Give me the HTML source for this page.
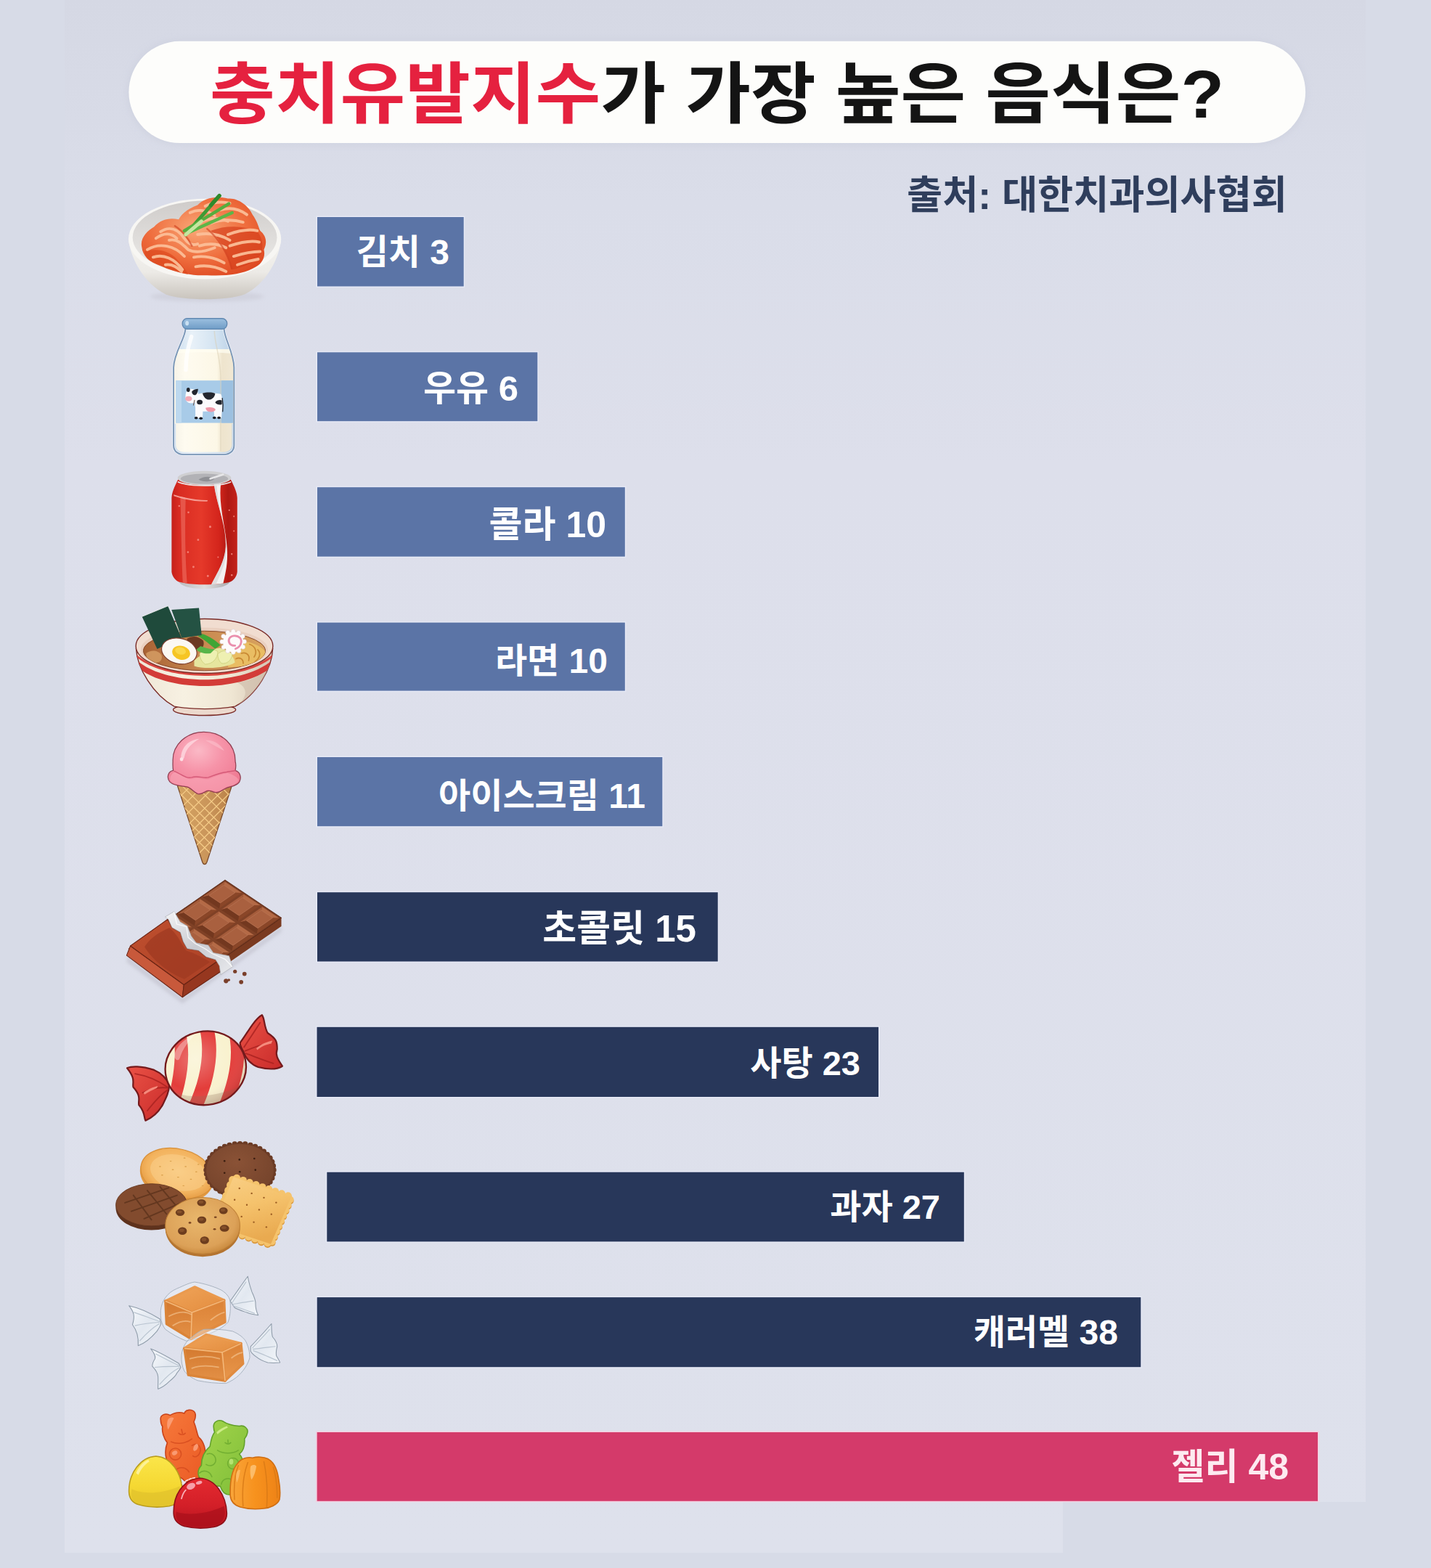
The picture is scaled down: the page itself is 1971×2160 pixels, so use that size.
<!DOCTYPE html>
<html lang="ko"><head><meta charset="utf-8"><title>충치유발지수가 가장 높은 음식은?</title>
<style>
html,body{margin:0;padding:0;background:#d7dbe7;font-family:"Liberation Sans",sans-serif;}
body{width:1971px;height:2160px;overflow:hidden;position:relative;}
svg{position:absolute;left:0;top:0;display:block;}
.t,.t *{margin:0;padding:0;list-style:none;font-weight:bold;font-style:normal;line-height:1.1;white-space:nowrap;color:transparent;}
.t{position:absolute;left:0;top:0;width:1971px;height:2160px;overflow:hidden;}
.t h1,.t p,.t li{position:absolute;}
</style></head><body>
<svg width="1971" height="2160" viewBox="0 0 1971 2160">
<defs>
<linearGradient id="bgg" x1="0" y1="0" x2="0" y2="1"><stop offset="0" stop-color="#d5d8e4"/><stop offset=".13" stop-color="#dadde9"/><stop offset=".3" stop-color="#dddfeb"/><stop offset="1" stop-color="#dee1ec"/></linearGradient>
<filter id="soft" x="-5%" y="-30%" width="110%" height="160%"><feGaussianBlur stdDeviation="5"/></filter>
</defs>
<rect width="1971" height="2160" fill="#d7dbe7"/>
<rect x="89" y="0" width="1792" height="2139" fill="url(#bgg)"/>
<rect x="1464" y="2069" width="420" height="72" fill="#d7dbe7"/>
<!-- title pill -->
<rect x="175" y="55" width="1625" height="145" rx="72" fill="#c9cddb" opacity=".55" filter="url(#soft)"/>
<rect x="177.4" y="56.8" width="1620.7" height="140.2" rx="70.1" fill="#fdfdfb"/>
<g aria-label="충치유발지수가 가장 높은 음식은?">
<text x="289" y="162" font-family="'Liberation Sans','Noto Sans CJK KR',sans-serif" font-size="92" font-weight="bold" fill="#141414" textLength="1397" lengthAdjust="spacingAndGlyphs"><tspan fill="#e5213f">충치유발지수</tspan>가 가장 높은 음식은?</text>
</g>
<g aria-label="출처: 대한치과의사협회"><text x="1249" y="288" font-family="'Liberation Sans','Noto Sans CJK KR',sans-serif" font-size="54" font-weight="bold" fill="#2f3e5c" textLength="524" lengthAdjust="spacingAndGlyphs">출처: 대한치과의사협회</text></g>
<g id="bars"><rect x="435.5" y="297.5" width="204.7" height="98.5" fill="#e6e9f6"/><rect x="437.0" y="299.0" width="201.7" height="95.5" fill="#5b74a6"/><rect x="435.5" y="483.8" width="306.3" height="97.9" fill="#e6e9f6"/><rect x="437.0" y="485.3" width="303.3" height="94.9" fill="#5b74a6"/><rect x="435.5" y="669.7" width="426.8" height="98.5" fill="#e6e9f6"/><rect x="437.0" y="671.2" width="423.8" height="95.5" fill="#5b74a6"/><rect x="435.5" y="856.1" width="426.8" height="97.0" fill="#e6e9f6"/><rect x="437.0" y="857.6" width="423.8" height="94.0" fill="#5b74a6"/><rect x="435.5" y="1041.5" width="478.3" height="98.2" fill="#e6e9f6"/><rect x="437.0" y="1043.0" width="475.3" height="95.2" fill="#5b74a6"/><rect x="435.5" y="1227.7" width="554.7" height="98.3" fill="#e6e9f6"/><rect x="437.0" y="1229.2" width="551.7" height="95.3" fill="#28375a"/><rect x="435.0" y="1413.3" width="776.5" height="99.2" fill="#e6e9f6"/><rect x="436.5" y="1414.8" width="773.5" height="96.2" fill="#28375a"/><rect x="448.8" y="1613.2" width="880.5" height="98.7" fill="#e6e9f6"/><rect x="450.3" y="1614.7" width="877.5" height="95.7" fill="#28375a"/><rect x="435.2" y="1785.6" width="1137.6" height="99.1" fill="#e6e9f6"/><rect x="436.7" y="1787.1" width="1134.6" height="96.1" fill="#28375a"/><rect x="435.2" y="1971.5" width="1381.3" height="97.8" fill="#f3cfe0"/><rect x="436.7" y="1973.0" width="1378.3" height="94.8" fill="#d43a6a"/></g>
<g id="labels" font-family="'Liberation Sans','Noto Sans CJK KR',sans-serif" font-weight="bold" text-anchor="end" fill="#fff">
<text x="619" y="364" font-size="48">김치 3</text>
<text x="714" y="552" font-size="49">우유 6</text>
<text x="835" y="740" font-size="50">콜라 10</text>
<text x="837" y="927" font-size="48">라면 10</text>
<text x="889" y="1113" font-size="48">아이스크림 11</text>
<text x="959" y="1297" font-size="51">초콜릿 15</text>
<text x="1185" y="1481" font-size="47">사탕 23</text>
<text x="1295" y="1679" font-size="47">과자 27</text>
<text x="1540" y="1852" font-size="48">캐러멜 38</text>
<text x="1775" y="2038" font-size="50" fill="#fdeaf0">젤리 48</text>
</g>
<g id="icons">
<g id="kimchi" transform="translate(160,250) scale(0.130435)">
<defs>
<linearGradient id="k_body" x1="0" y1="0" x2="0" y2="1"><stop offset="0" stop-color="#f6f5f2"/><stop offset=".55" stop-color="#eceae6"/><stop offset="1" stop-color="#c9c4bd"/></linearGradient>
<linearGradient id="k_in" x1="0" y1="0" x2="0" y2="1"><stop offset="0" stop-color="#cfccca"/><stop offset="1" stop-color="#eeedeb"/></linearGradient>
<radialGradient id="k_kim" cx=".45" cy=".4" r=".7"><stop offset="0" stop-color="#f9a878"/><stop offset=".55" stop-color="#ef6e3e"/><stop offset="1" stop-color="#dc451f"/></radialGradient>
<filter id="k_bl" x="-20%" y="-50%" width="140%" height="200%"><feGaussianBlur stdDeviation="22"/></filter>
</defs>
<ellipse cx="960" cy="1215" rx="600" ry="55" fill="#b9b8c2" opacity=".3" filter="url(#k_bl)"/>
<path d="M132 610C150 820 300 1080 520 1190C700 1262 1180 1262 1360 1190C1580 1080 1725 820 1740 610Z" fill="url(#k_body)"/>
<ellipse cx="936" cy="607" rx="806" ry="424" fill="#f7f6f3"/>
<ellipse cx="936" cy="592" rx="762" ry="388" fill="url(#k_in)"/>
<path d="M270 690C250 600 330 520 400 480C470 400 560 380 660 400C700 330 760 290 860 250C930 170 1060 150 1180 180C1290 170 1400 260 1440 350C1490 420 1500 470 1520 520C1580 570 1600 640 1560 720C1580 800 1540 880 1440 920C1330 980 1150 1000 960 990C800 1000 620 960 470 890C350 850 280 790 270 690Z" fill="url(#k_kim)"/>
<path d="M1000 520C1120 640 1200 800 1230 930C1340 900 1480 860 1530 760C1560 680 1540 600 1500 540C1380 470 1180 450 1000 520Z" fill="#d6401c" opacity=".7"/>
<path d="M300 740C420 700 560 730 640 820C700 890 740 940 760 980C620 960 470 900 380 850C320 820 300 780 300 740Z" fill="#dd4a20" opacity=".7"/>
<g fill="none" stroke="#fcc09a" stroke-width="30" stroke-linecap="round" opacity=".92">
<path d="M420 600C500 540 580 540 640 600"/><path d="M900 420C1000 380 1100 380 1180 420"/><path d="M1100 300C1200 270 1300 290 1380 350"/><path d="M880 680C980 650 1080 660 1160 700"/><path d="M520 880C580 870 640 900 690 950"/><path d="M1280 880C1360 850 1440 830 1500 820"/><path d="M940 260C1020 220 1120 210 1200 230"/>
<path d="M330 720C460 640 620 680 720 790"/><path d="M390 800C500 760 620 820 700 930"/>
<path d="M470 530C560 470 650 500 720 600C760 660 800 680 860 660"/>
<path d="M560 620C640 600 700 660 760 720C840 760 940 740 1040 700"/>
<path d="M780 330C860 290 960 300 1040 360"/>
<path d="M860 560C980 540 1100 560 1200 620"/>
<path d="M1180 560C1290 520 1400 500 1490 520"/>
<path d="M1200 680C1320 640 1420 620 1510 640"/>
<path d="M1240 790C1340 760 1440 740 1520 740"/>
<path d="M820 800C920 780 1040 800 1140 860"/>
<path d="M840 900C940 880 1060 900 1160 950"/>
<path d="M1000 440C1100 400 1240 400 1340 430"/>
</g>
<g fill="none" stroke="#c93215" stroke-width="18" stroke-linecap="round" opacity=".55">
<path d="M620 470C700 520 760 600 800 680"/><path d="M960 500C1080 600 1180 760 1220 920"/>
</g>
<g fill="none" stroke-linecap="round">
<path d="M735 560L1090 150" stroke="#3f9a35" stroke-width="38"/>
<path d="M720 520L1190 235" stroke="#55ad3e" stroke-width="34"/>
<path d="M760 540L1225 330" stroke="#5cb648" stroke-width="34"/>
<path d="M735 560L900 420" stroke="#c5e6a0" stroke-width="38"/>
<path d="M1090 150L1000 250" stroke="#2f8a2c" stroke-width="40"/>
</g>
</g>
<g id="milk" transform="translate(220,420) scale(0.109091)">
<defs>
<linearGradient id="m_milk" x1="0" y1="0" x2="1" y2="0"><stop offset="0" stop-color="#f4f1e6"/><stop offset=".2" stop-color="#fefbf0"/><stop offset=".7" stop-color="#fcf7e6"/><stop offset=".78" stop-color="#eee4cd"/><stop offset="1" stop-color="#f1e9d6"/></linearGradient>
<linearGradient id="m_cap" x1="0" y1="0" x2="0" y2="1"><stop offset="0" stop-color="#9cc0e0"/><stop offset="1" stop-color="#6f9cc6"/></linearGradient>
<linearGradient id="m_gl" x1="0" y1="0" x2="1" y2="0"><stop offset="0" stop-color="#c9dcee"/><stop offset=".3" stop-color="#e8f1f8"/><stop offset=".7" stop-color="#d3e3f1"/><stop offset="1" stop-color="#b9d0e6"/></linearGradient>
<clipPath id="m_clip"><path d="M325 300C325 420 180 600 175 790V1775C175 1845 230 1889 300 1889H810C880 1889 938 1845 938 1775V790C935 600 812 420 812 300Z"/></clipPath>
</defs>
<path d="M325 300C325 420 180 600 175 790V1775C175 1845 230 1889 300 1889H810C880 1889 938 1845 938 1775V790C935 600 812 420 812 300Z" fill="url(#m_gl)" stroke="#e9eef6" stroke-width="34"/>
<g clip-path="url(#m_clip)">
<path d="M150 560H970V1500H912V1770C912 1822 868 1858 812 1858H300C245 1858 203 1822 203 1770V1500H150Z" fill="url(#m_milk)"/>
<path d="M150 560H970V620C700 590 400 590 150 620Z" fill="#fffdf2" opacity=".7"/>
<rect x="205" y="955" width="720" height="535" fill="#a8cbe8"/>
<rect x="205" y="955" width="70" height="535" fill="#bcd8ee"/>
<rect x="780" y="955" width="145" height="535" fill="#9cc0e0"/>
<path d="M400 400C360 520 330 640 330 820" stroke="#ffffff" stroke-width="50" stroke-linecap="round" fill="none" opacity=".75"/>
<path d="M690 330C700 520 760 640 770 900V1850" stroke="#d9cdb2" stroke-width="14" fill="none" opacity=".5"/>
</g>
<path d="M325 300C325 420 180 600 175 790V1775C175 1845 230 1889 300 1889H810C880 1889 938 1845 938 1775V790C935 600 812 420 812 300" fill="none" stroke="#7895b6" stroke-width="17"/>
<rect x="286" y="172" width="564" height="134" rx="62" fill="url(#m_cap)" stroke="#5f87b0" stroke-width="12"/>
<ellipse cx="345" cy="232" rx="22" ry="30" fill="#c9e0f2"/>
<!-- cow -->
<g>
<path d="M470 1130C520 1105 700 1105 770 1125C795 1150 795 1300 785 1340L780 1425H690L685 1345H545L540 1430H450L450 1300C440 1250 445 1170 470 1130Z" fill="#fbfbfd"/>
<path d="M345 1075C380 1050 450 1060 480 1100C500 1150 480 1210 440 1235C400 1250 345 1240 330 1200C320 1160 325 1110 345 1075Z" fill="#fbfbfd"/>
<path d="M540 1115C590 1100 680 1100 700 1120C690 1180 640 1205 600 1195C570 1180 550 1150 540 1115Z" fill="#23262e"/>
<path d="M405 1095C420 1070 455 1060 485 1060C480 1100 470 1135 440 1140C415 1135 405 1115 405 1095Z" fill="#23262e"/>
<ellipse cx="360" cy="1072" rx="22" ry="28" fill="#23262e"/>
<ellipse cx="505" cy="1228" rx="36" ry="30" fill="#23262e"/>
<path d="M700 1230C720 1200 760 1195 785 1205V1255C760 1265 715 1260 700 1230Z" fill="#23262e"/>
<ellipse cx="365" cy="1185" rx="42" ry="32" fill="#f2a9b6"/>
<path d="M580 1300C620 1285 690 1290 705 1320C700 1350 650 1360 610 1345C590 1335 580 1320 580 1300Z" fill="#ee98a8"/>
<path d="M790 1180C800 1240 800 1300 795 1345" stroke="#23262e" stroke-width="12" fill="none" stroke-linecap="round"/>
<g fill="#191b22"><ellipse cx="460" cy="1428" rx="22" ry="16"/><ellipse cx="520" cy="1432" rx="22" ry="16"/><ellipse cx="690" cy="1426" rx="22" ry="16"/><ellipse cx="748" cy="1426" rx="22" ry="16"/></g>
<path d="M440 1200L425 1270" stroke="#5a3a2a" stroke-width="8" fill="none"/>
</g>
</g>
<g id="cola" transform="translate(220,628.74) scale(0.099237,0.105886)">
<defs>
<linearGradient id="c_red" x1="0" y1="0" x2="1" y2="0"><stop offset="0" stop-color="#c5201a"/><stop offset=".12" stop-color="#d92c22"/><stop offset=".45" stop-color="#e5392a"/><stop offset=".72" stop-color="#d4251c"/><stop offset=".86" stop-color="#b01913"/><stop offset="1" stop-color="#c3221a"/></linearGradient>
<linearGradient id="c_sil" x1="0" y1="0" x2="1" y2="0"><stop offset="0" stop-color="#b9b9bc"/><stop offset=".5" stop-color="#dededf"/><stop offset="1" stop-color="#a9a9ad"/></linearGradient>
<clipPath id="c_clip"><path d="M255 330C200 400 168 470 165 540V1500C170 1560 215 1610 262 1632C450 1680 800 1680 980 1632C1030 1610 1072 1560 1076 1500V540C1072 470 1040 400 985 330Z"/></clipPath>
</defs>
<path d="M255 1590C255 1690 420 1722 620 1722C820 1722 985 1690 985 1590Z" fill="url(#c_sil)"/>
<path d="M255 300C200 400 168 470 165 540V1500C170 1560 215 1610 262 1632C450 1680 800 1680 980 1632C1030 1610 1072 1560 1076 1500V540C1072 470 1040 400 985 300Z" fill="url(#c_red)"/>
<g clip-path="url(#c_clip)">
<path d="M285 520C300 900 300 1300 320 1640L380 1650C350 1300 350 900 360 540Z" fill="#f0766a" opacity=".55"/>
<path d="M195 495C340 540 520 570 665 568L660 585C500 590 330 560 195 515Z" fill="#f7a79e" opacity=".9"/>
<path d="M750 340C790 640 930 900 915 1180C900 1400 760 1560 690 1720L870 1700C900 1560 950 1420 935 1200C915 900 810 640 850 340Z" fill="#f3f1f1"/>
<path d="M750 340C790 640 930 900 915 1180C900 1400 760 1560 690 1720L760 1715C820 1560 935 1400 925 1180C915 900 800 640 790 340Z" fill="#cfcdd0" opacity=".55"/>
<g fill="#f58a80" opacity=".9"><circle cx="270" cy="645" r="12"/><circle cx="398" cy="728" r="13"/><circle cx="700" cy="915" r="15"/><circle cx="533" cy="1085" r="14"/><circle cx="392" cy="1245" r="13"/><circle cx="468" cy="1437" r="14"/><circle cx="668" cy="1555" r="14"/><circle cx="965" cy="700" r="11"/><circle cx="1030" cy="780" r="10"/><circle cx="1030" cy="970" r="10"/><circle cx="1000" cy="1270" r="11"/><circle cx="1000" cy="1545" r="12"/><circle cx="810" cy="1310" r="10"/></g>
</g>
<ellipse cx="620" cy="282" rx="372" ry="92" fill="#cfcfd1"/>
<ellipse cx="620" cy="290" rx="330" ry="66" fill="#b2b2b6"/>
<path d="M540 300C600 260 700 250 760 290C720 330 600 340 540 300Z" fill="#8f9095"/>
<path d="M700 290L880 235" stroke="#e6e6e8" stroke-width="26" stroke-linecap="round"/>
<path d="M250 330C400 395 840 395 990 330" stroke="#e9e9ea" stroke-width="16" fill="none"/>
</g>
<g id="ramen" transform="translate(170,820) scale(0.125)">
<defs>
<linearGradient id="r_body" x1="0" y1="0" x2="1" y2="0"><stop offset="0" stop-color="#efe6d6"/><stop offset=".35" stop-color="#f7f1e2"/><stop offset=".7" stop-color="#efe6d3"/><stop offset="1" stop-color="#d3c3b1"/></linearGradient>
<linearGradient id="r_soup" x1="0" y1="0" x2="1" y2="0"><stop offset="0" stop-color="#a86234"/><stop offset=".5" stop-color="#c98a52"/><stop offset="1" stop-color="#d8a35e"/></linearGradient>
<clipPath id="r_clip"><path d="M140 590C150 800 330 1100 560 1225H1230C1470 1100 1640 800 1645 590Z"/></clipPath>
<clipPath id="r_soupclip"><ellipse cx="892" cy="612" rx="672" ry="218"/></clipPath>
</defs>
<ellipse cx="893" cy="1262" rx="345" ry="62" fill="#ecd9cd" stroke="#7a2a26" stroke-width="11"/>
<path d="M140 590C150 800 330 1100 560 1225C760 1262 1030 1262 1230 1225C1470 1100 1640 800 1645 590Z" fill="url(#r_body)" stroke="#7a2a26" stroke-width="11"/>
<g clip-path="url(#r_clip)">
<path d="M1250 960C1350 1000 1400 1100 1240 1230L1500 1230L1700 700L1560 800C1500 900 1380 950 1250 960Z" fill="#cdbba8" opacity=".6"/>
<path d="M120 700C300 880 650 930 893 930C1140 930 1480 880 1670 700V730C1480 905 1140 958 893 958C650 958 300 905 120 730Z" fill="#d9453f" transform="translate(0,-70)"/>
<path d="M120 720C300 905 650 960 893 960C1140 960 1480 905 1670 720V790C1480 975 1140 1030 893 1030C650 1030 300 975 120 790Z" fill="#d33c38" transform="translate(0,-30)"/>
</g>
<ellipse cx="892" cy="560" rx="755" ry="300" fill="#f1ddd0" stroke="#7a2a26" stroke-width="11"/>
<ellipse cx="892" cy="596" rx="700" ry="240" fill="#ead0c0"/>
<ellipse cx="892" cy="612" rx="672" ry="218" fill="url(#r_soup)" stroke="#8a4a2a" stroke-width="8"/>
<g clip-path="url(#r_soupclip)">
<path d="M1180 520C1300 480 1500 520 1580 640C1500 760 1300 800 1150 790C1180 700 1200 600 1180 520Z" fill="#e9bd63"/>
<g fill="none" stroke="#c98a34" stroke-width="14" stroke-linecap="round"><path d="M1390 540C1450 560 1480 620 1440 680"/><path d="M1300 640C1350 620 1400 660 1380 720"/><path d="M1480 600C1520 640 1500 700 1450 730"/><path d="M1240 700C1280 680 1320 700 1320 750"/></g>
<path d="M250 640C300 600 380 600 420 660C440 720 380 760 320 740C280 720 250 690 250 640Z" fill="#d7a066" opacity=".8"/>
<path d="M780 720C850 650 950 600 1060 580C1150 600 1210 660 1230 740C1150 800 900 820 780 780Z" fill="#e6e69e"/>
<path d="M840 640C900 590 990 580 1040 620C1040 700 980 760 900 760C860 730 840 690 840 640Z" fill="#eef0b2" stroke="#c9cc7a" stroke-width="6"/>
<path d="M1040 650C1080 600 1150 600 1200 650C1190 720 1140 760 1080 750C1050 720 1040 690 1040 650Z" fill="#eef0b2" stroke="#c9cc7a" stroke-width="6"/>
</g>
<path d="M700 480C760 440 830 450 880 500C900 560 860 610 800 600C740 580 700 540 700 480Z" fill="#6b3a22"/>
<path d="M820 450L870 425C950 450 1020 500 1070 550L1010 590C950 540 880 480 820 450Z" fill="#3fa535"/>
<path d="M800 600L850 560C900 580 960 600 1010 590L960 640C900 650 840 630 800 600Z" fill="#58b548"/>
<path d="M205 235L490 118L640 470L372 592Z" fill="#1f4a3b"/>
<path d="M530 160L832 140L862 440L642 470Z" fill="#245243"/>
<path d="M205 235L490 118L530 160" fill="none" stroke="#f3f3f0" stroke-width="8" opacity=".8"/>
<g transform="rotate(14 615 615)"><ellipse cx="615" cy="615" rx="197" ry="140" fill="#fbf8f2" stroke="#7a3a2a" stroke-width="9"/><ellipse cx="640" cy="628" rx="100" ry="76" fill="#f6c524"/><ellipse cx="628" cy="610" rx="60" ry="40" fill="#fad74a"/></g>
<g fill="#fdfbfb" stroke="#d9c7cf" stroke-width="4"><circle cx="1210" cy="515" r="112"/><g><circle cx="1210" cy="398" r="24"/><circle cx="1268" cy="412" r="24"/><circle cx="1314" cy="452" r="24"/><circle cx="1332" cy="510" r="24"/><circle cx="1318" cy="570" r="24"/><circle cx="1272" cy="612" r="24"/><circle cx="1210" cy="628" r="24"/><circle cx="1150" cy="614" r="24"/><circle cx="1104" cy="572" r="24"/><circle cx="1086" cy="512" r="24"/><circle cx="1102" cy="452" r="24"/><circle cx="1150" cy="410" r="24"/></g></g>
<circle cx="1210" cy="515" r="112" fill="#fdfbfb"/>
<path d="M1230 555C1180 560 1150 520 1165 480C1185 440 1250 435 1285 470C1315 510 1290 570 1235 590" fill="none" stroke="#ea8fae" stroke-width="22" stroke-linecap="round"/>
</g>
<g id="icecream" transform="translate(210,1000) scale(0.1041667)">
<defs>
<radialGradient id="i_sc" cx=".42" cy=".3" r=".75"><stop offset="0" stop-color="#fbb9c6"/><stop offset=".45" stop-color="#f693a8"/><stop offset="1" stop-color="#ee7790"/></radialGradient>
<linearGradient id="i_cone" x1="0" y1="0" x2="1" y2="0"><stop offset="0" stop-color="#d5a462"/><stop offset=".6" stop-color="#c9945a"/><stop offset="1" stop-color="#b98046"/></linearGradient>
<clipPath id="i_clip"><path d="M330 790L1050 790L720 1800C705 1840 675 1840 660 1800Z"/></clipPath>
</defs>
<path d="M330 790L1050 790L720 1800C705 1840 675 1840 660 1800Z" fill="url(#i_cone)" stroke="#7a4a2a" stroke-width="12" stroke-linejoin="round"/>
<g clip-path="url(#i_clip)" stroke="#f3c986" stroke-width="13" fill="none">
<path d="M380 780L1000 1400M250 780L900 1430M560 780L1100 1320M720 780L1150 1210M880 780L1200 1100M300 960L860 1520M360 1150L800 1590M480 1400L760 1680"/>
<path d="M1000 780L380 1400M1130 780L480 1430M840 780L300 1320M680 780L250 1210M520 780L200 1100M1060 960L520 1500M980 1180L560 1600M900 1400L620 1680"/>
</g>
<path d="M270 470C260 250 450 80 680 80C920 80 1100 250 1095 470C1110 520 1100 560 1095 590C1160 610 1180 680 1150 740C1110 800 1020 800 960 830C920 850 880 890 830 880C790 870 760 850 720 860C680 880 650 910 600 900C550 880 520 830 470 810C400 790 290 800 230 740C180 680 210 600 275 590C268 550 268 510 270 470Z" fill="url(#i_sc)" stroke="#8f3f52" stroke-width="12" stroke-linejoin="round"/>
<path d="M290 600C380 640 450 700 520 680C600 650 680 700 740 680C820 650 900 620 980 610C1020 600 1060 600 1095 590" fill="none" stroke="#d55a78" stroke-width="14" stroke-linecap="round"/>
<path d="M300 610C400 660 460 720 530 700C610 670 690 720 750 700C830 670 900 640 990 625C1060 640 1130 680 1140 720C1100 790 1020 790 960 815C920 840 880 875 830 866C790 856 760 838 720 848C680 866 650 896 600 886C550 868 520 818 470 798C400 778 300 790 240 730C220 680 250 630 300 610Z" fill="#f9a9ba" opacity=".55"/>
<path d="M380 380C400 260 500 180 620 170C520 230 440 300 420 420C400 460 370 440 380 380Z" fill="#fdd3db" opacity=".9"/>
<ellipse cx="385" cy="440" rx="22" ry="26" fill="#fde0e6"/>
<path d="M700 190C800 180 900 240 950 330C880 290 790 250 700 190Z" fill="#fbc0cc" opacity=".6"/>
</g>
<g id="choc" transform="translate(160,1200) scale(0.130435)">
<defs><linearGradient id="ch_w" x1="0" y1="0" x2="1" y2="1"><stop offset="0" stop-color="#c0502f"/><stop offset="1" stop-color="#a93f25"/></linearGradient>
<linearGradient id="ch_f" x1="0" y1="0" x2="1" y2="1"><stop offset="0" stop-color="#f4f4f6"/><stop offset=".5" stop-color="#c9cbd0"/><stop offset="1" stop-color="#e9eaee"/></linearGradient>
<filter id="ch_bl" x="-20%" y="-20%" width="140%" height="140%"><feGaussianBlur stdDeviation="18"/></filter></defs>
<path d="M120 900L700 1340L1745 585L1745 640L700 1400L110 960Z" fill="#b9b8c4" opacity=".5" filter="url(#ch_bl)"/>
<path d="M1744 494L1744 582L906 1164L906 1076Z" fill="#7a3a20"/>
<path d="M1150 95L1744 494L906 1076L312 677Z" fill="#7f4126" stroke="#5a2612" stroke-width="8" stroke-linejoin="round"/>
<path d="M1147 111L1325 230L1256 228L1137 148Z" fill="#b46a46"/>
<path d="M1147 111L1137 148L980 257L911 275Z" fill="#a55c3b"/>
<path d="M1325 230L1089 394L1099 337L1256 228Z" fill="#8a4628"/>
<path d="M911 275L980 257L1099 337L1089 394Z" fill="#73381f"/>
<path d="M1137 148L1256 228L1099 337L980 257Z" fill="#a9603f" stroke="#c98462" stroke-width="4" stroke-linejoin="round"/>
<path d="M1345 244L1523 363L1454 361L1335 281Z" fill="#b46a46"/>
<path d="M1345 244L1335 281L1178 390L1109 408Z" fill="#a55c3b"/>
<path d="M1523 363L1287 527L1297 470L1454 361Z" fill="#8a4628"/>
<path d="M1109 408L1178 390L1297 470L1287 527Z" fill="#73381f"/>
<path d="M1335 281L1454 361L1297 470L1178 390Z" fill="#a9603f" stroke="#c98462" stroke-width="4" stroke-linejoin="round"/>
<path d="M1543 377L1721 496L1652 494L1533 414Z" fill="#b46a46"/>
<path d="M1543 377L1533 414L1376 523L1307 541Z" fill="#a55c3b"/>
<path d="M1721 496L1485 660L1495 603L1652 494Z" fill="#8a4628"/>
<path d="M1307 541L1376 523L1495 603L1485 660Z" fill="#73381f"/>
<path d="M1533 414L1652 494L1495 603L1376 523Z" fill="#a9603f" stroke="#c98462" stroke-width="4" stroke-linejoin="round"/>
<path d="M885 293L1063 412L994 410L875 330Z" fill="#b46a46"/>
<path d="M885 293L875 330L718 439L649 457Z" fill="#a55c3b"/>
<path d="M1063 412L827 576L837 519L994 410Z" fill="#8a4628"/>
<path d="M649 457L718 439L837 519L827 576Z" fill="#73381f"/>
<path d="M875 330L994 410L837 519L718 439Z" fill="#a9603f" stroke="#c98462" stroke-width="4" stroke-linejoin="round"/>
<path d="M1083 426L1261 545L1192 543L1073 463Z" fill="#b46a46"/>
<path d="M1083 426L1073 463L916 572L847 590Z" fill="#a55c3b"/>
<path d="M1261 545L1025 709L1035 652L1192 543Z" fill="#8a4628"/>
<path d="M847 590L916 572L1035 652L1025 709Z" fill="#73381f"/>
<path d="M1073 463L1192 543L1035 652L916 572Z" fill="#a9603f" stroke="#c98462" stroke-width="4" stroke-linejoin="round"/>
<path d="M1281 559L1459 678L1390 676L1271 596Z" fill="#b46a46"/>
<path d="M1281 559L1271 596L1114 705L1045 723Z" fill="#a55c3b"/>
<path d="M1459 678L1223 842L1233 785L1390 676Z" fill="#8a4628"/>
<path d="M1045 723L1114 705L1233 785L1223 842Z" fill="#73381f"/>
<path d="M1271 596L1390 676L1233 785L1114 705Z" fill="#a9603f" stroke="#c98462" stroke-width="4" stroke-linejoin="round"/>
<path d="M623 475L801 594L732 592L613 512Z" fill="#b46a46"/>
<path d="M623 475L613 512L456 621L387 639Z" fill="#a55c3b"/>
<path d="M801 594L565 758L575 701L732 592Z" fill="#8a4628"/>
<path d="M387 639L456 621L575 701L565 758Z" fill="#73381f"/>
<path d="M613 512L732 592L575 701L456 621Z" fill="#a9603f" stroke="#c98462" stroke-width="4" stroke-linejoin="round"/>
<path d="M821 608L999 727L930 725L811 645Z" fill="#b46a46"/>
<path d="M821 608L811 645L654 754L585 772Z" fill="#a55c3b"/>
<path d="M999 727L763 891L773 834L930 725Z" fill="#8a4628"/>
<path d="M585 772L654 754L773 834L763 891Z" fill="#73381f"/>
<path d="M811 645L930 725L773 834L654 754Z" fill="#a9603f" stroke="#c98462" stroke-width="4" stroke-linejoin="round"/>
<path d="M1019 741L1197 860L1128 858L1009 778Z" fill="#b46a46"/>
<path d="M1019 741L1009 778L852 887L783 905Z" fill="#a55c3b"/>
<path d="M1197 860L961 1024L971 967L1128 858Z" fill="#8a4628"/>
<path d="M783 905L852 887L971 967L961 1024Z" fill="#73381f"/>
<path d="M1009 778L1128 858L971 967L852 887Z" fill="#a9603f" stroke="#c98462" stroke-width="4" stroke-linejoin="round"/>
<path d="M361 657L539 776L470 774L351 694Z" fill="#b46a46"/>
<path d="M361 657L351 694L194 803L125 821Z" fill="#a55c3b"/>
<path d="M539 776L303 940L313 883L470 774Z" fill="#8a4628"/>
<path d="M125 821L194 803L313 883L303 940Z" fill="#73381f"/>
<path d="M351 694L470 774L313 883L194 803Z" fill="#a9603f" stroke="#c98462" stroke-width="4" stroke-linejoin="round"/>
<path d="M559 790L737 909L668 907L549 827Z" fill="#b46a46"/>
<path d="M559 790L549 827L392 936L323 954Z" fill="#a55c3b"/>
<path d="M737 909L501 1073L511 1016L668 907Z" fill="#8a4628"/>
<path d="M323 954L392 936L511 1016L501 1073Z" fill="#73381f"/>
<path d="M549 827L668 907L511 1016L392 936Z" fill="#a9603f" stroke="#c98462" stroke-width="4" stroke-linejoin="round"/>
<path d="M757 923L935 1042L866 1040L747 960Z" fill="#b46a46"/>
<path d="M757 923L747 960L590 1069L521 1087Z" fill="#a55c3b"/>
<path d="M935 1042L699 1206L709 1149L866 1040Z" fill="#8a4628"/>
<path d="M521 1087L590 1069L709 1149L699 1206Z" fill="#73381f"/>
<path d="M747 960L866 1040L709 1149L590 1069Z" fill="#a9603f" stroke="#c98462" stroke-width="4" stroke-linejoin="round"/>
<path d="M110 890L150 790L715 1200L700 1332Z" fill="#c8593b" stroke="#6a2414" stroke-width="8" stroke-linejoin="round"/>
<path d="M715 1200L1092 935L1102 1062L700 1332Z" fill="#96371f" stroke="#6a2414" stroke-width="8" stroke-linejoin="round"/>
<path d="M150 790L545 508L590 596L678 646L708 744L750 818L870 838L950 905L1050 935L1092 935L715 1200Z" fill="url(#ch_w)" stroke="#6a2414" stroke-width="8" stroke-linejoin="round"/>
<path d="M300 800C360 700 470 640 560 600C640 650 680 760 740 840C840 870 940 930 990 960L720 1140C560 1080 380 940 300 800Z" fill="#9f3a22" opacity=".75"/>
<path d="M612 426L676 536L752 580L792 684L846 758L972 782L1026 862L1192 896L1230 1010L1104 1094L1090 1000L1050 935L950 905L870 838L750 818L708 744L678 646L590 596L552 510L516 484Z" fill="url(#ch_f)" stroke="#a9abb2" stroke-width="5" stroke-linejoin="round"/>
<path d="M610 428L640 560L742 586L760 700L836 766L940 820L1012 870L1150 930L1226 1010" fill="none" stroke="#ffffff" stroke-width="10" opacity=".8"/>
<circle cx="1255" cy="1060" r="20" fill="#7a3f2a"/>
<circle cx="1355" cy="1085" r="22" fill="#7a3f2a"/>
<circle cx="1160" cy="1160" r="24" fill="#7a3f2a"/>
<circle cx="1320" cy="1172" r="22" fill="#7a3f2a"/>
<circle cx="1190" cy="1150" r="14" fill="#7a3f2a"/>
</g>
<g id="candy" transform="translate(160,1380) scale(0.130435)">
<defs>
<clipPath id="cd_clip"><ellipse cx="945" cy="700" rx="428" ry="388" transform="rotate(-12 945 700)"/></clipPath>
<radialGradient id="cd_sh" cx=".4" cy=".35" r=".7"><stop offset="0" stop-color="#fff" stop-opacity=".28"/><stop offset=".6" stop-color="#fff" stop-opacity="0"/><stop offset="1" stop-color="#5a1010" stop-opacity=".22"/></radialGradient>
<linearGradient id="cd_w" x1="0" y1="0" x2="1" y2="1"><stop offset="0" stop-color="#ea5246"/><stop offset="1" stop-color="#c92b2a"/></linearGradient>
</defs>
<!-- left wrapper -->
<path d="M115 700C160 680 260 675 400 720C470 750 530 800 560 880C560 950 530 1010 490 1090C450 1160 390 1220 310 1255C290 1220 310 1170 240 1090C230 1040 270 1000 180 900C170 850 210 820 115 700Z" fill="url(#cd_w)" stroke="#741a1c" stroke-width="17" stroke-linejoin="round"/>
<path d="M200 760C320 780 440 830 540 900M280 960C380 910 470 900 545 910M330 1150C400 1060 470 980 545 930" fill="none" stroke="#a8201f" stroke-width="14" stroke-linecap="round" opacity=".8"/>
<path d="M290 960C340 920 400 900 440 890L430 910C390 930 340 950 300 980Z" fill="#f58a7c"/>
<!-- right wrapper -->
<path d="M1540 140C1570 180 1560 260 1600 330C1690 390 1700 420 1700 500C1680 560 1700 600 1755 680C1700 715 1600 715 1500 690C1420 660 1370 600 1340 520C1320 480 1300 450 1310 430C1350 380 1390 310 1440 240C1470 200 1500 160 1540 140Z" fill="url(#cd_w)" stroke="#741a1c" stroke-width="17" stroke-linejoin="round"/>
<path d="M1520 220C1470 300 1400 400 1350 480M1640 430C1540 450 1430 490 1360 520M1660 650C1560 620 1440 570 1370 545" fill="none" stroke="#a8201f" stroke-width="14" stroke-linecap="round" opacity=".8"/>
<path d="M1480 490C1540 440 1600 420 1650 410L1640 440C1590 450 1530 470 1490 510Z" fill="#f58a7c"/>
<!-- ball -->
<ellipse cx="945" cy="700" rx="428" ry="388" transform="rotate(-12 945 700)" fill="#f9f2cf"/>
<g clip-path="url(#cd_clip)">
<path d="M600 300C640 520 620 800 520 1120L650 1120C760 820 790 540 730 300Z" fill="#e33d3a"/>
<path d="M880 280C940 520 900 820 740 1140L900 1140C1050 820 1090 520 1030 280Z" fill="#e33d3a"/>
<path d="M1180 300C1250 540 1200 840 1060 1140L1200 1140C1340 840 1390 560 1320 320Z" fill="#e33d3a"/>
<path d="M520 1120L640 960C800 1040 1100 980 1300 900L1400 900L1200 1200Z" fill="#8a6a50" opacity=".25"/>
<ellipse cx="945" cy="700" rx="428" ry="388" transform="rotate(-12 945 700)" fill="url(#cd_sh)"/>
<path d="M620 540C660 440 740 380 830 350C760 420 700 500 670 600C650 640 600 600 620 540Z" fill="#fff" opacity=".35"/>
</g>
<ellipse cx="945" cy="700" rx="428" ry="388" transform="rotate(-12 945 700)" fill="none" stroke="#741a1c" stroke-width="18"/>
</g>
<g id="cookies" transform="translate(150,1560) scale(0.146739)">
<defs>
<radialGradient id="ck_o" cx=".5" cy=".45" r=".6"><stop offset="0" stop-color="#facb82"/><stop offset=".7" stop-color="#f3b35e"/><stop offset="1" stop-color="#e2953c"/></radialGradient>
<radialGradient id="ck_c" cx=".45" cy=".4" r=".65"><stop offset="0" stop-color="#e9b76c"/><stop offset=".75" stop-color="#dca158"/><stop offset="1" stop-color="#c48438"/></radialGradient>
<linearGradient id="ck_s" x1="0" y1="0" x2=".3" y2="1"><stop offset="0" stop-color="#f9cf86"/><stop offset=".5" stop-color="#f5c26c"/><stop offset="1" stop-color="#e9aa50"/></linearGradient>
<radialGradient id="ck_d" cx=".45" cy=".35" r=".7"><stop offset="0" stop-color="#8a5236"/><stop offset="1" stop-color="#74432b"/></radialGradient>
</defs>
<g transform="rotate(14 640 390)"><ellipse cx="640" cy="405" rx="350" ry="240" fill="#e39a44"/><ellipse cx="640" cy="385" rx="348" ry="230" fill="url(#ck_o)" stroke="#d89038" stroke-width="8"/><ellipse cx="650" cy="375" rx="270" ry="165" fill="#fad08c" opacity=".55"/></g>
<ellipse cx="580" cy="270" rx="10" ry="5" fill="#d9a04c"/>
<ellipse cx="710" cy="240" rx="10" ry="5" fill="#d9a04c"/>
<ellipse cx="480" cy="320" rx="10" ry="5" fill="#d9a04c"/>
<ellipse cx="840" cy="300" rx="10" ry="5" fill="#d9a04c"/>
<ellipse cx="600" cy="350" rx="10" ry="5" fill="#d9a04c"/>
<ellipse cx="720" cy="320" rx="10" ry="5" fill="#d9a04c"/>
<ellipse cx="820" cy="370" rx="10" ry="5" fill="#d9a04c"/>
<ellipse cx="500" cy="400" rx="10" ry="5" fill="#d9a04c"/>
<ellipse cx="650" cy="420" rx="10" ry="5" fill="#d9a04c"/>
<ellipse cx="770" cy="440" rx="10" ry="5" fill="#d9a04c"/>
<ellipse cx="700" cy="500" rx="10" ry="5" fill="#d9a04c"/>
<ellipse cx="880" cy="500" rx="10" ry="5" fill="#d9a04c"/>
<ellipse cx="1230" cy="368" rx="322" ry="251" fill="#5f321f"/>
<circle cx="1546" cy="352" r="26" fill="#6b3b25"/>
<circle cx="1542" cy="390" r="26" fill="#6b3b25"/>
<circle cx="1531" cy="428" r="26" fill="#6b3b25"/>
<circle cx="1512" cy="463" r="26" fill="#6b3b25"/>
<circle cx="1486" cy="496" r="26" fill="#6b3b25"/>
<circle cx="1453" cy="525" r="26" fill="#6b3b25"/>
<circle cx="1416" cy="550" r="26" fill="#6b3b25"/>
<circle cx="1373" cy="570" r="26" fill="#6b3b25"/>
<circle cx="1328" cy="585" r="26" fill="#6b3b25"/>
<circle cx="1279" cy="594" r="26" fill="#6b3b25"/>
<circle cx="1230" cy="597" r="26" fill="#6b3b25"/>
<circle cx="1181" cy="594" r="26" fill="#6b3b25"/>
<circle cx="1132" cy="585" r="26" fill="#6b3b25"/>
<circle cx="1087" cy="570" r="26" fill="#6b3b25"/>
<circle cx="1044" cy="550" r="26" fill="#6b3b25"/>
<circle cx="1007" cy="525" r="26" fill="#6b3b25"/>
<circle cx="974" cy="496" r="26" fill="#6b3b25"/>
<circle cx="948" cy="463" r="26" fill="#6b3b25"/>
<circle cx="929" cy="428" r="26" fill="#6b3b25"/>
<circle cx="918" cy="390" r="26" fill="#6b3b25"/>
<circle cx="914" cy="352" r="26" fill="#6b3b25"/>
<circle cx="918" cy="314" r="26" fill="#6b3b25"/>
<circle cx="929" cy="276" r="26" fill="#6b3b25"/>
<circle cx="948" cy="241" r="26" fill="#6b3b25"/>
<circle cx="974" cy="208" r="26" fill="#6b3b25"/>
<circle cx="1007" cy="179" r="26" fill="#6b3b25"/>
<circle cx="1044" cy="154" r="26" fill="#6b3b25"/>
<circle cx="1087" cy="134" r="26" fill="#6b3b25"/>
<circle cx="1132" cy="119" r="26" fill="#6b3b25"/>
<circle cx="1181" cy="110" r="26" fill="#6b3b25"/>
<circle cx="1230" cy="107" r="26" fill="#6b3b25"/>
<circle cx="1279" cy="110" r="26" fill="#6b3b25"/>
<circle cx="1328" cy="119" r="26" fill="#6b3b25"/>
<circle cx="1373" cy="134" r="26" fill="#6b3b25"/>
<circle cx="1416" cy="154" r="26" fill="#6b3b25"/>
<circle cx="1453" cy="179" r="26" fill="#6b3b25"/>
<circle cx="1486" cy="208" r="26" fill="#6b3b25"/>
<circle cx="1512" cy="241" r="26" fill="#6b3b25"/>
<circle cx="1531" cy="276" r="26" fill="#6b3b25"/>
<circle cx="1542" cy="314" r="26" fill="#6b3b25"/>
<ellipse cx="1230" cy="352" rx="316" ry="245" fill="url(#ck_d)"/>
<circle cx="1085" cy="268" r="9" fill="#3a1d10"/>
<circle cx="1225" cy="255" r="9" fill="#3a1d10"/>
<circle cx="1365" cy="245" r="9" fill="#3a1d10"/>
<circle cx="1085" cy="380" r="9" fill="#3a1d10"/>
<circle cx="1228" cy="370" r="9" fill="#3a1d10"/>
<circle cx="1375" cy="352" r="9" fill="#3a1d10"/>
<ellipse cx="400" cy="712" rx="335" ry="205" fill="#5e321d"/>
<ellipse cx="400" cy="680" rx="335" ry="198" fill="#824b2e" stroke="#63351f" stroke-width="6"/>
<g fill="none" stroke="#63371f" stroke-width="13" stroke-linecap="round"><path d="M150 660L560 520M210 740L640 590M330 810L680 660M230 590L400 820M360 545L540 765M480 510L640 700"/></g>
<g transform="translate(0,12)"><circle cx="1200" cy="428" r="34" fill="#d9983e"/><circle cx="1260" cy="449" r="34" fill="#d9983e"/><circle cx="1321" cy="470" r="34" fill="#d9983e"/><circle cx="1381" cy="491" r="34" fill="#d9983e"/><circle cx="1441" cy="512" r="34" fill="#d9983e"/><circle cx="1501" cy="532" r="34" fill="#d9983e"/><circle cx="1561" cy="553" r="34" fill="#d9983e"/><circle cx="1622" cy="574" r="34" fill="#d9983e"/><circle cx="1682" cy="595" r="34" fill="#d9983e"/><circle cx="1701" cy="630" r="34" fill="#d9983e"/><circle cx="1680" cy="679" r="34" fill="#d9983e"/><circle cx="1659" cy="728" r="34" fill="#d9983e"/><circle cx="1637" cy="777" r="34" fill="#d9983e"/><circle cx="1616" cy="826" r="34" fill="#d9983e"/><circle cx="1595" cy="876" r="34" fill="#d9983e"/><circle cx="1573" cy="925" r="34" fill="#d9983e"/><circle cx="1552" cy="974" r="34" fill="#d9983e"/><circle cx="1531" cy="1023" r="34" fill="#d9983e"/><circle cx="1490" cy="1038" r="34" fill="#d9983e"/><circle cx="1431" cy="1018" r="34" fill="#d9983e"/><circle cx="1371" cy="999" r="34" fill="#d9983e"/><circle cx="1312" cy="979" r="34" fill="#d9983e"/><circle cx="1252" cy="959" r="34" fill="#d9983e"/><circle cx="1193" cy="939" r="34" fill="#d9983e"/><circle cx="1134" cy="919" r="34" fill="#d9983e"/><circle cx="1074" cy="900" r="34" fill="#d9983e"/><circle cx="1015" cy="880" r="34" fill="#d9983e"/><circle cx="995" cy="845" r="34" fill="#d9983e"/><circle cx="1016" cy="795" r="34" fill="#d9983e"/><circle cx="1036" cy="744" r="34" fill="#d9983e"/><circle cx="1057" cy="694" r="34" fill="#d9983e"/><circle cx="1078" cy="644" r="34" fill="#d9983e"/><circle cx="1098" cy="594" r="34" fill="#d9983e"/><circle cx="1119" cy="544" r="34" fill="#d9983e"/><circle cx="1139" cy="493" r="34" fill="#d9983e"/><circle cx="1160" cy="443" r="34" fill="#d9983e"/><path d="M1170 418L1712 605L1520 1048L985 870Z" fill="#d9983e"/></g>
<circle cx="1200" cy="428" r="34" fill="#f5c36c"/><circle cx="1260" cy="449" r="34" fill="#f5c36c"/><circle cx="1321" cy="470" r="34" fill="#f5c36c"/><circle cx="1381" cy="491" r="34" fill="#f5c36c"/><circle cx="1441" cy="512" r="34" fill="#f5c36c"/><circle cx="1501" cy="532" r="34" fill="#f5c36c"/><circle cx="1561" cy="553" r="34" fill="#f5c36c"/><circle cx="1622" cy="574" r="34" fill="#f5c36c"/><circle cx="1682" cy="595" r="34" fill="#f5c36c"/><circle cx="1701" cy="630" r="34" fill="#f5c36c"/><circle cx="1680" cy="679" r="34" fill="#f5c36c"/><circle cx="1659" cy="728" r="34" fill="#f5c36c"/><circle cx="1637" cy="777" r="34" fill="#f5c36c"/><circle cx="1616" cy="826" r="34" fill="#f5c36c"/><circle cx="1595" cy="876" r="34" fill="#f5c36c"/><circle cx="1573" cy="925" r="34" fill="#f5c36c"/><circle cx="1552" cy="974" r="34" fill="#f5c36c"/><circle cx="1531" cy="1023" r="34" fill="#f5c36c"/><circle cx="1490" cy="1038" r="34" fill="#f5c36c"/><circle cx="1431" cy="1018" r="34" fill="#f5c36c"/><circle cx="1371" cy="999" r="34" fill="#f5c36c"/><circle cx="1312" cy="979" r="34" fill="#f5c36c"/><circle cx="1252" cy="959" r="34" fill="#f5c36c"/><circle cx="1193" cy="939" r="34" fill="#f5c36c"/><circle cx="1134" cy="919" r="34" fill="#f5c36c"/><circle cx="1074" cy="900" r="34" fill="#f5c36c"/><circle cx="1015" cy="880" r="34" fill="#f5c36c"/><circle cx="995" cy="845" r="34" fill="#f5c36c"/><circle cx="1016" cy="795" r="34" fill="#f5c36c"/><circle cx="1036" cy="744" r="34" fill="#f5c36c"/><circle cx="1057" cy="694" r="34" fill="#f5c36c"/><circle cx="1078" cy="644" r="34" fill="#f5c36c"/><circle cx="1098" cy="594" r="34" fill="#f5c36c"/><circle cx="1119" cy="544" r="34" fill="#f5c36c"/><circle cx="1139" cy="493" r="34" fill="#f5c36c"/><circle cx="1160" cy="443" r="34" fill="#f5c36c"/>
<path d="M1170 418L1712 605L1520 1048L985 870Z" fill="url(#ck_s)"/>
<circle cx="1225" cy="525" r="8" fill="#9a5c22"/>
<circle cx="1340" cy="572" r="8" fill="#9a5c22"/>
<circle cx="1455" cy="612" r="8" fill="#9a5c22"/>
<circle cx="1570" cy="658" r="8" fill="#9a5c22"/>
<circle cx="1180" cy="632" r="8" fill="#9a5c22"/>
<circle cx="1295" cy="680" r="8" fill="#9a5c22"/>
<circle cx="1410" cy="725" r="8" fill="#9a5c22"/>
<circle cx="1525" cy="768" r="8" fill="#9a5c22"/>
<circle cx="1245" cy="790" r="8" fill="#9a5c22"/>
<circle cx="1360" cy="842" r="8" fill="#9a5c22"/>
<circle cx="1478" cy="888" r="8" fill="#9a5c22"/>
<ellipse cx="880" cy="905" rx="350" ry="262" fill="#b47430"/>
<ellipse cx="880" cy="875" rx="350" ry="265" fill="url(#ck_c)" stroke="#c08238" stroke-width="7"/>
<ellipse cx="870" cy="660" rx="42" ry="32" fill="#6d3d1e"/><ellipse cx="864" cy="653" rx="23" ry="14" fill="#85502a"/>
<ellipse cx="668" cy="752" rx="42" ry="32" fill="#6d3d1e"/><ellipse cx="662" cy="745" rx="23" ry="14" fill="#85502a"/>
<ellipse cx="1075" cy="735" rx="40" ry="32" fill="#6d3d1e"/><ellipse cx="1069" cy="728" rx="22" ry="14" fill="#85502a"/>
<ellipse cx="872" cy="822" rx="42" ry="34" fill="#6d3d1e"/><ellipse cx="866" cy="815" rx="23" ry="15" fill="#85502a"/>
<ellipse cx="690" cy="925" rx="42" ry="36" fill="#6d3d1e"/><ellipse cx="684" cy="918" rx="23" ry="16" fill="#85502a"/>
<ellipse cx="1085" cy="900" rx="44" ry="32" fill="#6d3d1e"/><ellipse cx="1079" cy="893" rx="24" ry="14" fill="#85502a"/>
<ellipse cx="898" cy="1012" rx="42" ry="36" fill="#6d3d1e"/><ellipse cx="892" cy="1005" rx="23" ry="16" fill="#85502a"/>
<ellipse cx="760" cy="848" rx="13" ry="9" fill="#7a4622"/>
<ellipse cx="1000" cy="796" rx="13" ry="9" fill="#7a4622"/>
<ellipse cx="992" cy="908" rx="13" ry="9" fill="#7a4622"/>
</g>
<g id="caramel" transform="translate(160,1740) scale(0.130435)">
<defs>
<linearGradient id="cr_t" x1="0" y1="0" x2="1" y2="1"><stop offset="0" stop-color="#f0a55a"/><stop offset="1" stop-color="#e38c3e"/></linearGradient>
<linearGradient id="cr_l" x1="0" y1="0" x2="0" y2="1"><stop offset="0" stop-color="#d47a30"/><stop offset="1" stop-color="#e39046"/></linearGradient>
<linearGradient id="cr_r" x1="0" y1="0" x2="0" y2="1"><stop offset="0" stop-color="#db8236"/><stop offset="1" stop-color="#e8974c"/></linearGradient>
<linearGradient id="cr_w" x1="0" y1="0" x2="1" y2="1"><stop offset="0" stop-color="#f7f9fc"/><stop offset=".5" stop-color="#e2e8f0"/><stop offset="1" stop-color="#f3f6fa"/></linearGradient>
</defs>
<!-- caramel 1 -->
<path d="M462 590C350 520 230 470 135 450C190 520 200 560 172 650C210 700 240 760 232 872C300 850 370 790 430 720C450 690 470 650 472 640Z" fill="url(#cr_w)" stroke="#8d9aa8" stroke-width="8" stroke-linejoin="round"/>
<path d="M190 520C280 550 380 590 455 615M200 660C290 640 380 630 455 625M250 820C320 740 390 680 455 640" fill="none" stroke="#b9c4d0" stroke-width="9" stroke-linecap="round"/>
<path d="M1205 400C1270 310 1330 220 1390 140C1400 210 1420 260 1432 300C1450 340 1470 380 1472 420C1470 470 1480 510 1500 550C1450 545 1410 535 1380 522C1330 505 1280 490 1250 470Z" fill="url(#cr_w)" stroke="#8d9aa8" stroke-width="8" stroke-linejoin="round"/>
<path d="M1370 200C1320 280 1260 360 1225 420M1450 400C1370 410 1290 425 1230 435M1460 530C1380 500 1300 470 1235 450" fill="none" stroke="#b9c4d0" stroke-width="9" stroke-linecap="round"/>
<path d="M470 500C480 400 540 310 640 270C720 235 780 205 830 200C930 215 1040 250 1110 285C1170 320 1205 370 1205 420C1210 500 1200 580 1180 625C1130 680 1060 715 1000 740C920 775 820 810 740 822C660 790 580 745 520 700C480 650 465 580 470 500Z" fill="#f3f5f9" fill-opacity=".38" stroke="#a3aebb" stroke-width="7"/>
<path d="M520 400L830 252L1140 392L800 522Z" fill="url(#cr_t)" stroke="#ea9a4e" stroke-width="26" stroke-linejoin="round"/>
<path d="M520 400L800 522L790 800L532 642Z" fill="url(#cr_l)" stroke="#da8438" stroke-width="26" stroke-linejoin="round"/>
<path d="M800 522L1140 392L1150 622L790 800Z" fill="url(#cr_r)" stroke="#e08b40" stroke-width="26" stroke-linejoin="round"/>
<path d="M520 400L800 522L1140 392M800 522L790 800" fill="none" stroke="#f6bd80" stroke-width="12" stroke-linejoin="round" opacity=".9"/>
<path d="M560 560C640 520 720 500 790 540M600 660C660 620 720 600 780 620M1000 600C1050 560 1100 530 1140 520" fill="none" stroke="#f8cfa0" stroke-width="14" stroke-linecap="round" opacity=".55"/>
<!-- caramel 2 -->
<path d="M662 1060C560 1000 460 940 365 905C400 950 420 980 410 1010C390 1040 380 1060 382 1090C420 1130 440 1160 442 1200C445 1250 440 1290 442 1330C490 1310 530 1280 560 1250C600 1220 630 1190 642 1160C660 1140 675 1120 682 1100Z" fill="url(#cr_w)" stroke="#8d9aa8" stroke-width="8" stroke-linejoin="round"/>
<path d="M420 960C500 1000 590 1050 660 1080M410 1100C500 1090 590 1090 665 1092M460 1280C520 1210 600 1140 668 1104" fill="none" stroke="#b9c4d0" stroke-width="9" stroke-linecap="round"/>
<path d="M1420 880C1500 800 1570 720 1640 640C1640 700 1640 740 1652 780C1680 810 1700 850 1700 880C1690 920 1685 950 1692 980C1710 1010 1722 1030 1730 1050C1680 1055 1640 1055 1600 1050C1550 1035 1510 1015 1480 990C1450 970 1430 950 1420 930Z" fill="url(#cr_w)" stroke="#8d9aa8" stroke-width="8" stroke-linejoin="round"/>
<path d="M1620 700C1560 770 1490 840 1440 895M1680 880C1600 890 1510 900 1445 910M1700 1030C1610 990 1520 950 1448 925" fill="none" stroke="#b9c4d0" stroke-width="9" stroke-linecap="round"/>
<path d="M690 970C700 890 740 820 800 780C850 740 890 710 930 700C1030 695 1140 700 1230 720C1300 750 1350 790 1372 832C1400 890 1412 950 1410 1000C1390 1070 1350 1130 1300 1180C1260 1220 1210 1250 1160 1270C1060 1270 950 1260 860 1240C800 1215 750 1180 720 1140C695 1090 685 1030 690 970Z" fill="#f3f5f9" fill-opacity=".38" stroke="#a3aebb" stroke-width="7"/>
<path d="M720 900L950 755L1318 848L1120 942Z" fill="url(#cr_t)" stroke="#ea9a4e" stroke-width="26" stroke-linejoin="round"/>
<path d="M720 900L1120 942L1150 1242L762 1182Z" fill="url(#cr_l)" stroke="#da8438" stroke-width="26" stroke-linejoin="round"/>
<path d="M1120 942L1318 848L1340 1062L1150 1242Z" fill="url(#cr_r)" stroke="#e08b40" stroke-width="26" stroke-linejoin="round"/>
<path d="M720 900L1120 942L1318 848M1120 942L1150 1242" fill="none" stroke="#f6bd80" stroke-width="12" stroke-linejoin="round" opacity=".9"/>
<path d="M780 1010C880 980 990 980 1090 1010M800 1110C880 1080 980 1080 1080 1100M1220 1000C1260 970 1300 950 1330 945" fill="none" stroke="#f8cfa0" stroke-width="14" stroke-linecap="round" opacity=".55"/>
</g>
<g id="jelly" transform="translate(160,1930) scale(0.130435)">
<defs>
<linearGradient id="j_o" x1="0" y1="0" x2="1" y2="1"><stop offset="0" stop-color="#f77a3c"/><stop offset="1" stop-color="#ea5a24"/></linearGradient>
<linearGradient id="j_g" x1="0" y1="0" x2="1" y2="1"><stop offset="0" stop-color="#a4d64c"/><stop offset="1" stop-color="#7fbd38"/></linearGradient>
<linearGradient id="j_y" x1="0" y1="0" x2="0" y2="1"><stop offset="0" stop-color="#fbe64a"/><stop offset=".6" stop-color="#f5d832"/><stop offset="1" stop-color="#e6c62c"/></linearGradient>
<linearGradient id="j_r" x1="0" y1="0" x2="0" y2="1"><stop offset="0" stop-color="#e42a30"/><stop offset=".55" stop-color="#d31f28"/><stop offset="1" stop-color="#b5141f"/></linearGradient>
<linearGradient id="j_m" x1="0" y1="0" x2="1" y2="0"><stop offset="0" stop-color="#f9a53a"/><stop offset=".5" stop-color="#f7921e"/><stop offset="1" stop-color="#ee8216"/></linearGradient>
</defs>
<!-- orange bear -->
<path d="M470 200C460 150 520 120 570 150C620 120 680 115 720 130C730 90 800 80 830 120C850 160 830 200 820 220C850 290 850 340 870 380C930 430 950 520 940 600C930 700 900 780 860 830C820 880 740 870 700 820C640 790 580 740 550 660C520 600 510 520 540 440C500 390 480 320 490 270C475 250 470 225 470 200Z" fill="url(#j_o)" stroke="#c8421a" stroke-width="12" stroke-linejoin="round"/>
<g fill="none" stroke="#d44a1e" stroke-width="12" stroke-linecap="round" opacity=".8"><path d="M580 430C640 460 740 450 800 400"/><circle cx="625" cy="560" r="62"/><path d="M800 470C840 440 890 460 890 520C880 580 840 600 810 580"/><path d="M640 720C680 690 740 700 770 750"/><path d="M660 340C680 360 710 360 730 340M690 300L700 340"/></g>
<path d="M545 200C560 170 590 165 610 180C590 220 570 260 550 300C535 280 535 230 545 200Z" fill="#fba27c" opacity=".85"/>
<ellipse cx="618" cy="548" rx="30" ry="22" fill="#fa9a72" transform="rotate(-30 618 548)"/><ellipse cx="840" cy="490" rx="22" ry="40" fill="#fa9a72" transform="rotate(25 840 490)"/>
<!-- green bear -->
<path d="M1030 280C1020 220 1080 190 1130 215C1180 250 1250 260 1300 265C1350 250 1400 290 1385 340C1380 370 1360 390 1355 400C1360 470 1340 530 1300 560C1340 600 1350 680 1340 760C1330 860 1290 940 1220 985C1160 1000 1120 960 1100 900C1040 900 960 880 900 830C850 790 860 720 900 680C900 600 930 530 990 480C1000 420 1010 360 1040 330C1033 310 1030 295 1030 280Z" fill="url(#j_g)" stroke="#62a02a" stroke-width="12" stroke-linejoin="round"/>
<g fill="none" stroke="#6aa82e" stroke-width="12" stroke-linecap="round" opacity=".8"><path d="M1070 520C1130 560 1230 560 1290 520"/><path d="M960 560C1010 540 1060 580 1050 640C1030 690 980 690 950 670"/><circle cx="1235" cy="660" r="58"/><path d="M880 760C920 720 990 740 1010 800"/><path d="M1110 880C1120 820 1190 800 1230 840"/><path d="M1150 440C1170 455 1195 455 1210 440M1180 410L1182 440"/></g>
<path d="M1060 330C1090 300 1130 280 1170 265L1180 280C1140 300 1100 325 1070 350Z" fill="#d3f08e" opacity=".9"/>
<ellipse cx="1215" cy="640" rx="22" ry="30" fill="#c2ea7c" opacity=".8"/>
<!-- orange mould -->
<path d="M1205 1000C1200 850 1220 720 1290 650C1330 600 1400 590 1440 600C1490 585 1560 590 1600 610C1660 640 1700 720 1715 820C1730 900 1735 980 1725 1040C1700 1100 1620 1130 1560 1135C1480 1145 1380 1140 1310 1120C1250 1100 1210 1060 1205 1000Z" fill="url(#j_m)" stroke="#cf6e12" stroke-width="12" stroke-linejoin="round"/>
<g fill="none" stroke="#d97a16" stroke-width="12" stroke-linecap="round" opacity=".85"><path d="M1390 650C1340 780 1330 960 1340 1110"/><path d="M1560 640C1590 780 1600 960 1590 1120"/><path d="M1290 680C1250 780 1240 900 1250 1040"/><path d="M1660 700C1690 800 1700 920 1700 1020"/></g>
<path d="M1420 690C1440 670 1470 670 1480 690C1470 760 1450 800 1430 830C1415 800 1410 730 1420 690Z" fill="#fcc070" opacity=".9"/>
<path d="M1270 760C1280 730 1300 720 1310 730C1300 790 1290 830 1275 860C1265 830 1262 790 1270 760Z" fill="#fcc070" opacity=".8"/>
<!-- yellow gumdrop -->
<path d="M135 960C130 760 260 590 420 582C580 590 690 760 700 950C705 1040 650 1090 560 1110C460 1125 330 1120 240 1095C170 1075 138 1030 135 960Z" fill="url(#j_y)" stroke="#b99c1e" stroke-width="12" stroke-linejoin="round"/>
<path d="M165 930C260 980 460 990 670 900C690 960 680 1040 600 1085C480 1115 320 1110 220 1080C160 1050 150 990 165 930Z" fill="#e2c32c" opacity=".75"/>
<path d="M210 760C240 690 290 640 340 620L350 640C300 670 260 720 235 780Z" fill="#fdf3a0" opacity=".9"/>
<!-- red gumdrop -->
<path d="M607 1190C600 1000 700 830 880 815C1050 820 1160 1000 1168 1180C1172 1260 1120 1310 1030 1330C930 1348 810 1345 720 1322C650 1300 610 1260 607 1190Z" fill="url(#j_r)" stroke="#8f1019" stroke-width="12" stroke-linejoin="round"/>
<path d="M635 1170C740 1210 950 1200 1140 1110C1160 1180 1150 1260 1070 1305C950 1335 800 1335 700 1300C640 1270 625 1220 635 1170Z" fill="#a9101b" opacity=".7"/>
<ellipse cx="790" cy="900" rx="48" ry="32" fill="#f7a0aa" transform="rotate(-25 790 900)"/><ellipse cx="875" cy="862" rx="34" ry="18" fill="#f7a0aa" transform="rotate(-15 875 862)"/>
<path d="M690 1030C700 990 715 960 735 940" fill="none" stroke="#f9b0b8" stroke-width="14" stroke-linecap="round"/>
<path d="M700 870C740 835 790 815 830 810" fill="none" stroke="#fbe0e2" stroke-width="12" stroke-linecap="round" stroke-dasharray="26 14"/>
</g>
</g>
</svg>
<div class="t"><h1 style="left:290px;top:66px;font-size:100px"><em>충치유발지수</em>가 가장 높은 음식은?</h1><p style="left:1249px;top:232px;font-size:55px">출처: 대한치과의사협회</p><ul><li style="top:315px;right:1352px;font-size:48px">김치 3</li><li style="top:503px;right:1257px;font-size:49px">우유 6</li><li style="top:689px;right:1136px;font-size:50px">콜라 10</li><li style="top:878px;right:1134px;font-size:48px">라면 10</li><li style="top:1064px;right:1082px;font-size:48px">아이스크림 11</li><li style="top:1246px;right:1012px;font-size:51px">초콜릿 15</li><li style="top:1433px;right:786px;font-size:47px">사탕 23</li><li style="top:1632px;right:676px;font-size:47px">과자 27</li><li style="top:1803px;right:431px;font-size:48px">캐러멜 38</li><li style="top:1988px;right:196px;font-size:50px">젤리 48</li></ul></div>
</body></html>
